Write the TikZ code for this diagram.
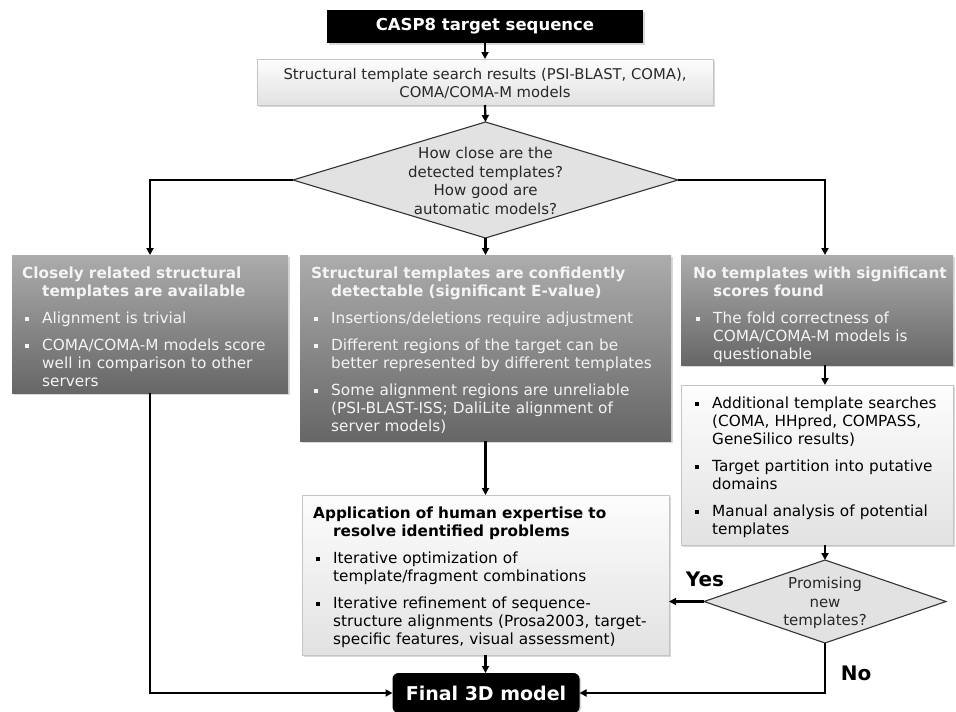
\documentclass[tikz,border=0pt]{standalone}
\usepackage{fontspec}
\setmainfont{DejaVu Sans}
\usetikzlibrary{shapes.geometric,arrows.meta,shadows,calc}

\definecolor{darktop}{RGB}{172,172,172}
\definecolor{darkbot}{RGB}{102,102,102}
\definecolor{lighttop}{RGB}{253,253,253}
\definecolor{lightbot}{RGB}{226,226,226}
\definecolor{lightborder}{RGB}{196,196,196}
\definecolor{dfill}{RGB}{226,226,226}
\definecolor{wtext}{RGB}{244,244,244}
\definecolor{dtext}{RGB}{40,40,40}

\newcommand{\firststrut}{\vrule height 12pt depth 0pt width 0pt}
\newcommand{\boxtitle}[1]{\par\hangindent=20pt\hangafter=1\noindent\firststrut\textbf{#1}\par}
\newcommand{\bulletmark}{\hbox to 20pt{\hskip 2.5pt\raise 3pt\hbox{\vrule width 4pt height 4pt}\hfil}}
\newcommand{\boxitem}[1]{\par\vspace{9pt}\hangindent=20pt\hangafter=1\noindent\bulletmark#1\par}
\newcommand{\boxfirstitem}[1]{\par\hangindent=20pt\hangafter=1\noindent\firststrut\bulletmark#1\par}

\tikzset{
  darkbox/.style={rectangle, draw=none, top color=darktop, bottom color=darkbot, inner sep=0pt, outer sep=0pt,
    drop shadow={shadow xshift=1.5pt, shadow yshift=-1.5pt, opacity=0.3}},
  lightbox/.style={rectangle, draw=lightborder, line width=0.8pt, top color=lighttop, bottom color=lightbot, inner sep=0pt, outer sep=0pt,
    drop shadow={shadow xshift=1.5pt, shadow yshift=-1.5pt, opacity=0.3}},
  blackbox/.style={rectangle, fill=black, inner sep=0pt, outer sep=0pt, text=white,
    drop shadow={shadow xshift=1.5pt, shadow yshift=-1.5pt, opacity=0.3}},
  decision/.style={diamond, draw=black!80, line width=1.1pt, fill=dfill, inner sep=0pt, outer sep=0pt},
  boxtext/.style={anchor=north west, inner sep=0pt, text width=400pt, font=\fontsize{15.3}{18}\selectfont},
  arr/.style={line width=2.2pt, -{Triangle[length=7pt,width=7pt]}},
  answer/.style={font=\fontsize{20}{24}\selectfont\bfseries, text=black}
}

\begin{document}
\begin{tikzpicture}[x=1pt, y=-1pt]
\useasboundingbox[fill=white] (0,0) rectangle (956,712);

% top
\node[blackbox, minimum width=316pt, minimum height=33pt, font=\fontsize{16.5}{19}\selectfont\bfseries] (casp) at (485,26.5) {CASP8 target sequence};
\node[lightbox, minimum width=456pt, minimum height=46pt] (search) at (485,82) {};
\node[align=center, font=\fontsize{14.8}{18}\selectfont, text=dtext] (searcht) at (485,84) {Structural template search results (PSI-BLAST, COMA),\\COMA/COMA-M models};

% first decision
\node[decision, minimum width=385pt, minimum height=116pt] (d1) at (485.5,180) {};
\node[align=center, font=\fontsize{15}{18.5}\selectfont, text=dtext] (d1t) at (485.5,181) {How close are the\\detected templates?\\How good are\\automatic models?};

% three boxes
\node[darkbox, minimum width=276pt, minimum height=138pt] (L) at (150,324) {};
\node[darkbox, minimum width=371pt, minimum height=186pt] (M) at (485.5,348) {};
\node[darkbox, minimum width=272pt, minimum height=110pt] (R) at (817,310) {};

\node[boxtext, text=wtext] (Lt) at ($(L.north west)+(10,5.5)$) {%
\boxtitle{Closely related structural\newline templates are available}%
\boxitem{Alignment is trivial}%
\boxitem{COMA/COMA-M models score\newline well in comparison to other\newline servers}};

\node[boxtext, text=wtext] (Mt) at ($(M.north west)+(11,5.5)$) {%
\boxtitle{Structural templates are confidently\newline detectable (significant E-value)}%
\boxitem{Insertions/deletions require adjustment}%
\boxitem{Different regions of the target can be\newline better represented by different templates}%
\boxitem{Some alignment regions are unreliable\newline (PSI-BLAST-ISS; DaliLite alignment of\newline server models)}};

\node[boxtext, text=wtext] (Rt) at ($(R.north west)+(12,5.5)$) {%
\boxtitle{No templates with significant\newline scores found}%
\boxitem{The fold correctness of\newline COMA/COMA-M models is\newline questionable}};

% right lower box
\node[lightbox, minimum width=272pt, minimum height=160pt] (R2) at (817,465) {};
\node[boxtext, text=black] (R2t) at ($(R2.north west)+(11,5.5)$) {%
\boxfirstitem{Additional template searches\newline (COMA, HHpred, COMPASS,\newline GeneSilico results)}%
\boxitem{Target partition into putative\newline domains}%
\boxitem{Manual analysis of potential\newline templates}};

% second decision
\node[decision, minimum width=242pt, minimum height=83pt] (d2) at (825,601.5) {};
\node[align=center, font=\fontsize{15}{18.5}\selectfont, text=dtext] (d2t) at (825,603) {Promising\\new\\templates?};

% human expertise box
\node[lightbox, minimum width=367pt, minimum height=160pt] (H) at (485.5,575) {};
\node[boxtext, text=black] (Ht) at ($(H.north west)+(11,5.5)$) {%
\boxtitle{Application of human expertise to\newline resolve identified problems}%
\boxitem{Iterative optimization of\newline template/fragment combinations}%
\boxitem{Iterative refinement of sequence-\newline structure alignments (Prosa2003, target-\newline specific features, visual assessment)}};

% final
\node[blackbox, rounded corners=6pt, minimum width=187pt, minimum height=40pt, font=\fontsize{19}{22}\selectfont\bfseries] (F) at (486,693) {Final 3D model};

% labels
\node[answer] (yes) at (705,579) {Yes};
\node[answer] (no) at (856,673) {No};

% connectors
\draw[arr] (casp.south) -- (search.north);
\draw[arr] (search.south) -- (d1.north);
\draw[arr] (d1.west) -| (L.north);
\draw[arr] (d1.east) -| (R.north -| d2.north);
\draw[arr] (d1.south) -- (M.north);
\draw[arr] (R.south -| d2.north) -- (R2.north -| d2.north);
\draw[arr] (R2.south -| d2.north) -- (d2.north);
\draw[arr] (M.south -| H.north) -- (H.north);
\draw[arr] (H.south) -- (H.south |- F.north);
\draw[arr] (L.south) |- (F.west);
\draw[arr] (d2.west) -- (d2.west -| H.east);
\draw[arr] (d2.south) |- (F.east);
\end{tikzpicture}
\end{document}
